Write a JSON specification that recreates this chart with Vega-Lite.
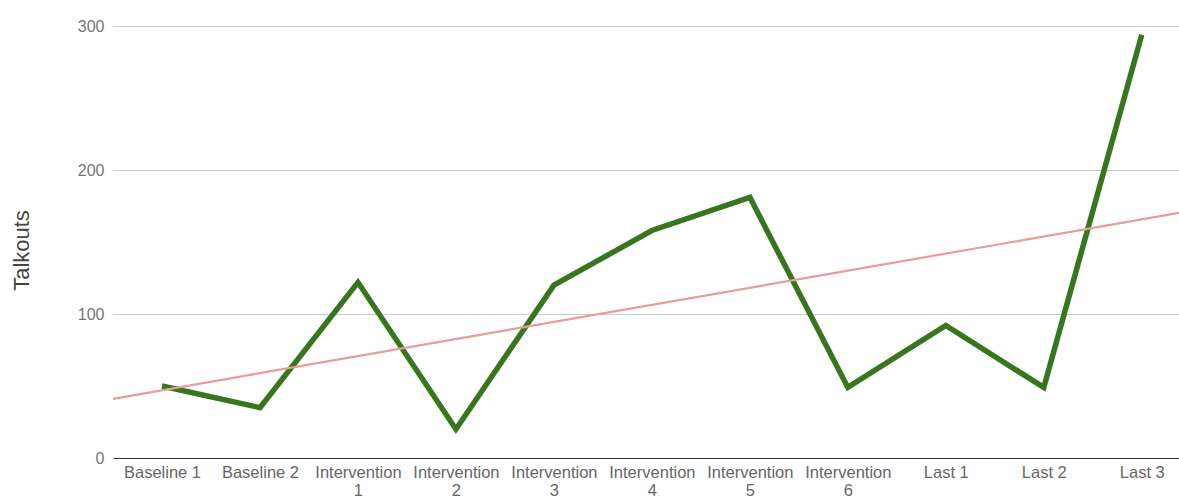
{
  "$schema": "https://vega.github.io/schema/vega-lite/v6.json",
  "width": 1066,
  "height": 432,
  "autosize": {"type": "none"},
  "padding": {"left": 113, "top": 26, "right": 0, "bottom": 39},
  "background": "white",
  "config": {
    "view": {"stroke": null},
    "font": "Liberation Sans"
  },
  "data": {
    "values": [
      {"i": 0, "session": "Baseline 1", "talkouts": 50},
      {"i": 1, "session": "Baseline 2", "talkouts": 35},
      {"i": 2, "session": "Intervention 1", "talkouts": 122},
      {"i": 3, "session": "Intervention 2", "talkouts": 20},
      {"i": 4, "session": "Intervention 3", "talkouts": 120},
      {"i": 5, "session": "Intervention 4", "talkouts": 158},
      {"i": 6, "session": "Intervention 5", "talkouts": 181},
      {"i": 7, "session": "Intervention 6", "talkouts": 49},
      {"i": 8, "session": "Last 1", "talkouts": 92},
      {"i": 9, "session": "Last 2", "talkouts": 49},
      {"i": 10, "session": "Last 3", "talkouts": 294}
    ]
  },
  "encoding": {
    "x": {
      "field": "i",
      "type": "quantitative",
      "scale": {"domain": [-0.5, 10.38], "nice": false, "zero": false},
      "axis": {
        "title": null,
        "values": [0, 1, 2, 3, 4, 5, 6, 7, 8, 9, 10],
        "labelExpr": "[['Baseline 1'],['Baseline 2'],['Intervention','1'],['Intervention','2'],['Intervention','3'],['Intervention','4'],['Intervention','5'],['Intervention','6'],['Last 1'],['Last 2'],['Last 3']][datum.value]",
        "grid": false,
        "ticks": false,
        "domain": true,
        "domainColor": "#333333",
        "domainWidth": 1.2,
        "labelFont": "Liberation Sans",
        "labelFontSize": 16.5,
        "labelColor": "#666666",
        "labelPadding": 6,
        "labelLineHeight": 18,
        "labelOverlap": false,
        "labelBound": false,
        "labelFlush": false
      }
    },
    "y": {
      "field": "talkouts",
      "type": "quantitative",
      "scale": {"domain": [0, 300], "nice": false},
      "axis": {
        "title": "Talkouts",
        "titleFont": "Liberation Sans",
        "titleFontSize": 22,
        "titleFontWeight": "normal",
        "titleColor": "#444444",
        "titlePadding": 44,
        "titleY": 224,
        "values": [0, 100, 200, 300],
        "ticks": false,
        "domain": false,
        "grid": true,
        "gridColor": "#cccccc",
        "gridWidth": 1,
        "labelFont": "Liberation Sans",
        "labelFontSize": 16,
        "labelColor": "#757575",
        "labelPadding": 9
      }
    }
  },
  "layer": [
    {
      "mark": {"type": "line", "color": "#38761d", "strokeWidth": 5.5, "strokeJoin": "miter", "strokeCap": "butt"}
    },
    {
      "transform": [
        {"regression": "talkouts", "on": "i", "method": "linear", "extent": [-0.5, 10.38]}
      ],
      "mark": {"type": "line", "color": "#e99a9a", "strokeWidth": 2.2, "clip": true}
    }
  ]
}
